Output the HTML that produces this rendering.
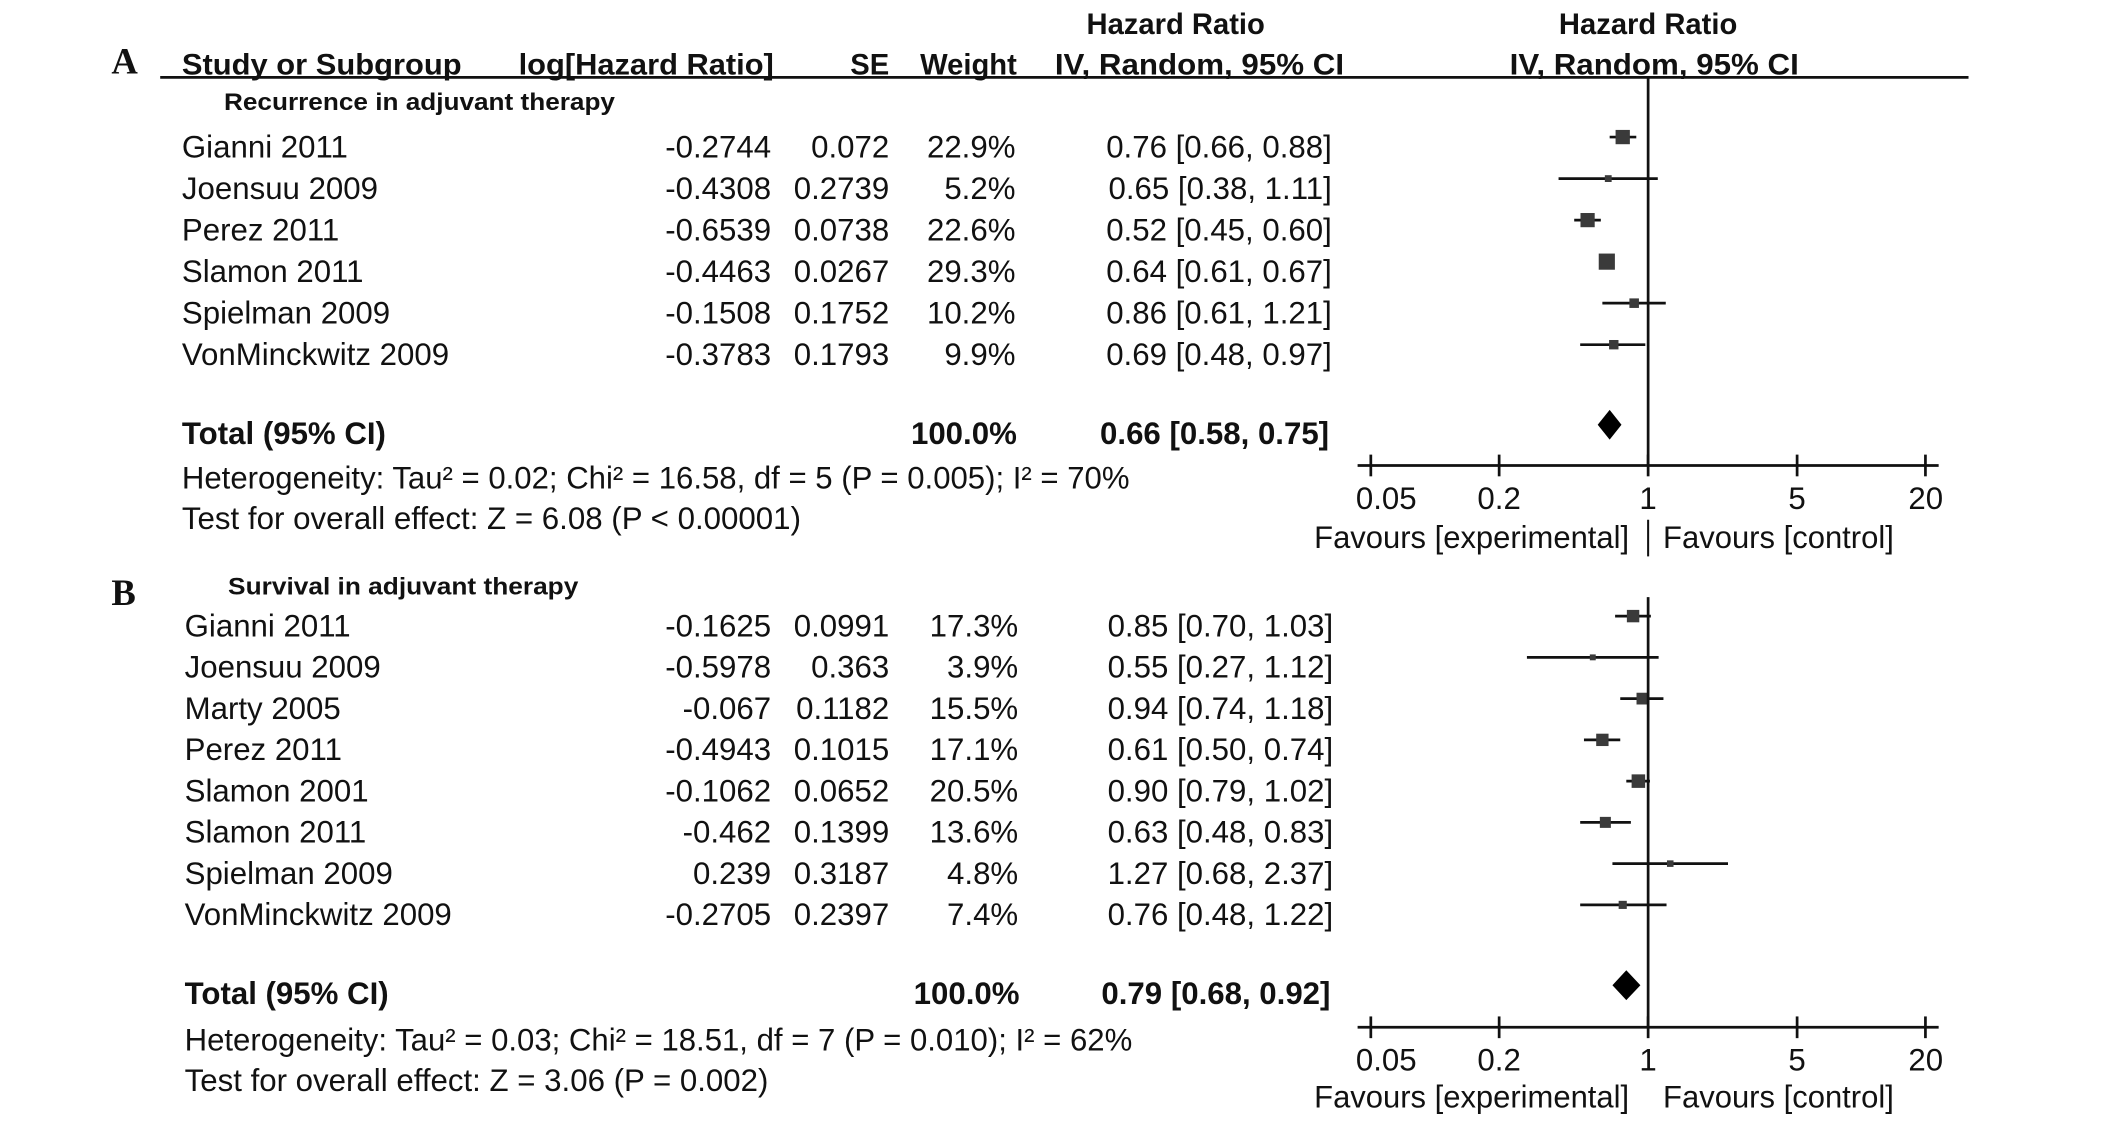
<!DOCTYPE html>
<html><head><meta charset="utf-8"><title>Forest plot</title>
<style>
html,body{margin:0;padding:0;background:#fff;}
svg{display:block;}
text{font-family:"Liberation Sans",Arial,sans-serif;fill:#111;}
.b{font-weight:bold;}
</style></head>
<body>
<svg id="chart" width="2126" height="1125" viewBox="0 0 1566 829" preserveAspectRatio="none" xmlns="http://www.w3.org/2000/svg">
  <g id="static">
    <text x="82" y="54" style="font-family:'Liberation Serif',serif;font-weight:bold;font-size:27px">A</text>
    <text x="82" y="446" style="font-family:'Liberation Serif',serif;font-weight:bold;font-size:27px">B</text>
    <text x="866" y="25" text-anchor="middle" class="b" font-size="21.5">Hazard Ratio</text>
    <text x="1214" y="25" text-anchor="middle" class="b" font-size="21.5">Hazard Ratio</text>
    <text x="134" y="55" class="b" font-size="21.5" textLength="206" lengthAdjust="spacingAndGlyphs">Study or Subgroup</text>
    <text x="382" y="55" class="b" font-size="21.5" textLength="188" lengthAdjust="spacingAndGlyphs">log[Hazard Ratio]</text>
    <text x="655" y="55" text-anchor="end" class="b" font-size="21.5">SE</text>
    <text x="749" y="55" text-anchor="end" class="b" font-size="21.5">Weight</text>
    <text x="777" y="55" class="b" font-size="21.5" textLength="213" lengthAdjust="spacingAndGlyphs">IV, Random, 95% CI</text>
    <text x="1112" y="55" class="b" font-size="21.5" textLength="213" lengthAdjust="spacingAndGlyphs">IV, Random, 95% CI</text>
    <line x1="118" y1="57" x2="1450" y2="57" stroke="#111" stroke-width="2"/>
    <text x="165" y="81" class="b" font-size="17.5" textLength="288" lengthAdjust="spacingAndGlyphs">Recurrence in adjuvant therapy</text>
    <text x="168" y="438" class="b" font-size="17.5" textLength="258" lengthAdjust="spacingAndGlyphs">Survival in adjuvant therapy</text>
  </g>
  <g id="dyn"></g>
</svg>
<script>
// ---- Panel A data ----
const studiesA = ["Gianni 2011","Joensuu 2009","Perez 2011","Slamon 2011","Spielman 2009","VonMinckwitz 2009"];
const logHRA = ["-0.2744","-0.4308","-0.6539","-0.4463","-0.1508","-0.3783"];
const seA = ["0.072","0.2739","0.0738","0.0267","0.1752","0.1793"];
const weightA = [22.9, 5.2, 22.6, 29.3, 10.2, 9.9];
const hrA = [0.76, 0.65, 0.52, 0.64, 0.86, 0.69];
const loA = [0.66, 0.38, 0.45, 0.61, 0.61, 0.48];
const hiA = [0.88, 1.11, 0.60, 0.67, 1.21, 0.97];
const totalA = [0.66, 0.58, 0.75];
const hetA = "Heterogeneity: Tau\u00b2 = 0.02; Chi\u00b2 = 16.58, df = 5 (P = 0.005); I\u00b2 = 70%";
const testA = "Test for overall effect: Z = 6.08 (P < 0.00001)";
// ---- Panel B data ----
const studiesB = ["Gianni 2011","Joensuu 2009","Marty 2005","Perez 2011","Slamon 2001","Slamon 2011","Spielman 2009","VonMinckwitz 2009"];
const logHRB = ["-0.1625","-0.5978","-0.067","-0.4943","-0.1062","-0.462","0.239","-0.2705"];
const seB = ["0.0991","0.363","0.1182","0.1015","0.0652","0.1399","0.3187","0.2397"];
const weightB = [17.3, 3.9, 15.5, 17.1, 20.5, 13.6, 4.8, 7.4];
const hrB = [0.85, 0.55, 0.94, 0.61, 0.90, 0.63, 1.27, 0.76];
const loB = [0.70, 0.27, 0.74, 0.50, 0.79, 0.48, 0.68, 0.48];
const hiB = [1.03, 1.12, 1.18, 0.74, 1.02, 0.83, 2.37, 1.22];
const totalB = [0.79, 0.68, 0.92];
const hetB = "Heterogeneity: Tau\u00b2 = 0.03; Chi\u00b2 = 18.51, df = 7 (P = 0.010); I\u00b2 = 62%";
const testB = "Test for overall effect: Z = 3.06 (P = 0.002)";
// ---- Axis ----
const tickValues = [0.05, 0.2, 1, 5, 20];
const tickLabels = ["0.05", "0.2", "1", "5", "20"];

const NS = "http://www.w3.org/2000/svg";
const dyn = document.getElementById("dyn");
const X0 = 1214, DECADE = 157;
const FS = 23;
function xScale(v){ return X0 + DECADE*Math.log10(v); }
function mk(tag, attrs){ const e=document.createElementNS(NS,tag); for(const k in attrs) e.setAttribute(k,attrs[k]); dyn.appendChild(e); return e; }
function txt(x,y,s,anchor,size,bold){
  const t=mk("text",{x:x,y:y,"text-anchor":anchor,"font-size":size});
  if(bold) t.setAttribute("class","b");
  t.textContent=s; return t;
}
function fmt(v){ return v.toFixed(2); }

function panel(p){
  for(let i=0;i<p.studies.length;i++){
    const yc = p.rowY0 + i*p.rowStep;
    const yb = yc + 8;
    let t = txt(p.nameX, yb, p.studies[i], "start", FS, false);
    
    
    t = txt(568, yb, p.logHR[i], "end", FS, false);
    
    
    t = txt(655, yb, p.se[i], "end", FS, false);
    
    
    t = txt(p.wX, yb, p.weight[i].toFixed(1)+"%", "end", FS, false);
    
    
    t = txt(p.ciX, yb, fmt(p.hr[i])+" ["+fmt(p.lo[i])+", "+fmt(p.hi[i])+"]", "end", FS, false);
    
    
    const ym = yc - 7;
    const ln = mk("line",{x1:xScale(p.lo[i]),x2:xScale(p.hi[i]),y1:ym,y2:ym,stroke:"#111","stroke-width":2});
    
    
    const s = 2.2*Math.sqrt(p.weight[i]);
    const sq = mk("rect",{x:xScale(p.hr[i])-s/2,y:ym-s/2,width:s,height:s,fill:"#3a3a3a"});
    
    
  }
  let t = txt(p.nameX, p.totY+8, "Total (95% CI)", "start", FS, true);
  
  
  t = txt(p.wX+1, p.totY+8, "100.0%", "end", FS, true);
  
  
  t = txt(p.ciX-2, p.totY+8, fmt(p.total[0])+" ["+fmt(p.total[1])+", "+fmt(p.total[2])+"]", "end", FS, true);
  
  
  const dy = p.totY - 6;
  const d = mk("polygon",{points:[xScale(p.total[1])+","+dy, xScale(p.total[0])+","+(dy-11), xScale(p.total[2])+","+dy, xScale(p.total[0])+","+(dy+11)].join(" "), fill:"#000"});
  
  
  t = txt(p.nameX, p.hetY+8, p.het, "start", FS, false);
  t.setAttribute("textLength", p.hetLen); t.setAttribute("lengthAdjust","spacingAndGlyphs");
  
  
  t = txt(p.nameX, p.testY+8, p.test, "start", FS, false);
  t.setAttribute("textLength", p.testLen); t.setAttribute("lengthAdjust","spacingAndGlyphs");
  
  
  const vl = mk("line",{x1:X0,x2:X0,y1:p.vTop,y2:p.axisY,stroke:"#111","stroke-width":2});
  
  
  const ax = mk("line",{x1:1000,x2:1428,y1:p.axisY,y2:p.axisY,stroke:"#111","stroke-width":2});
  
  
  for(let k=0;k<tickValues.length;k++){
    const tx = xScale(tickValues[k]);
    const tk = mk("line",{x1:tx,x2:tx,y1:p.axisY-8,y2:p.axisY+8,stroke:"#111","stroke-width":2});
    
    
    let anchor="middle", lx=tx;
    if(k===0){anchor="start"; lx=tx-11;}
    if(k===tickValues.length-1){anchor="end"; lx=tx+13;}
    const tl = txt(lx, p.axisY+32, tickLabels[k], anchor, FS, false);
    
    
  }
  t = txt(X0-14, p.favY+8, "Favours [experimental]", "end", FS, false);
  t.setAttribute("textLength", 232); t.setAttribute("lengthAdjust","spacingAndGlyphs");
  
  
  t = txt(X0+11, p.favY+8, "Favours [control]", "start", FS, false);
  t.setAttribute("textLength", 170); t.setAttribute("lengthAdjust","spacingAndGlyphs");
  
  
  if(p.divider){
    const dv = mk("line",{x1:X0,x2:X0,y1:p.favY-13,y2:p.favY+14,stroke:"#111","stroke-width":1.5});
    
    
  }
}

panel({studies:studiesA, logHR:logHRA, se:seA, weight:weightA, hr:hrA, lo:loA, hi:hiA, total:totalA,
  het:hetA, test:testA, nameX:134, wX:748, ciX:981, rowY0:108, rowStep:30.6, totY:319, hetY:352, testY:382,
  hetLen:698, testLen:456, vTop:57, axisY:343, favY:396, divider:true});
panel({studies:studiesB, logHR:logHRB, se:seB, weight:weightB, hr:hrB, lo:loB, hi:hiB, total:totalB,
  het:hetB, test:testB, nameX:136, wX:750, ciX:982, rowY0:461, rowStep:30.4, totY:732, hetY:766, testY:796,
  hetLen:698, testLen:430, vTop:440, axisY:757, favY:808, divider:false});
</script>
</body></html>
